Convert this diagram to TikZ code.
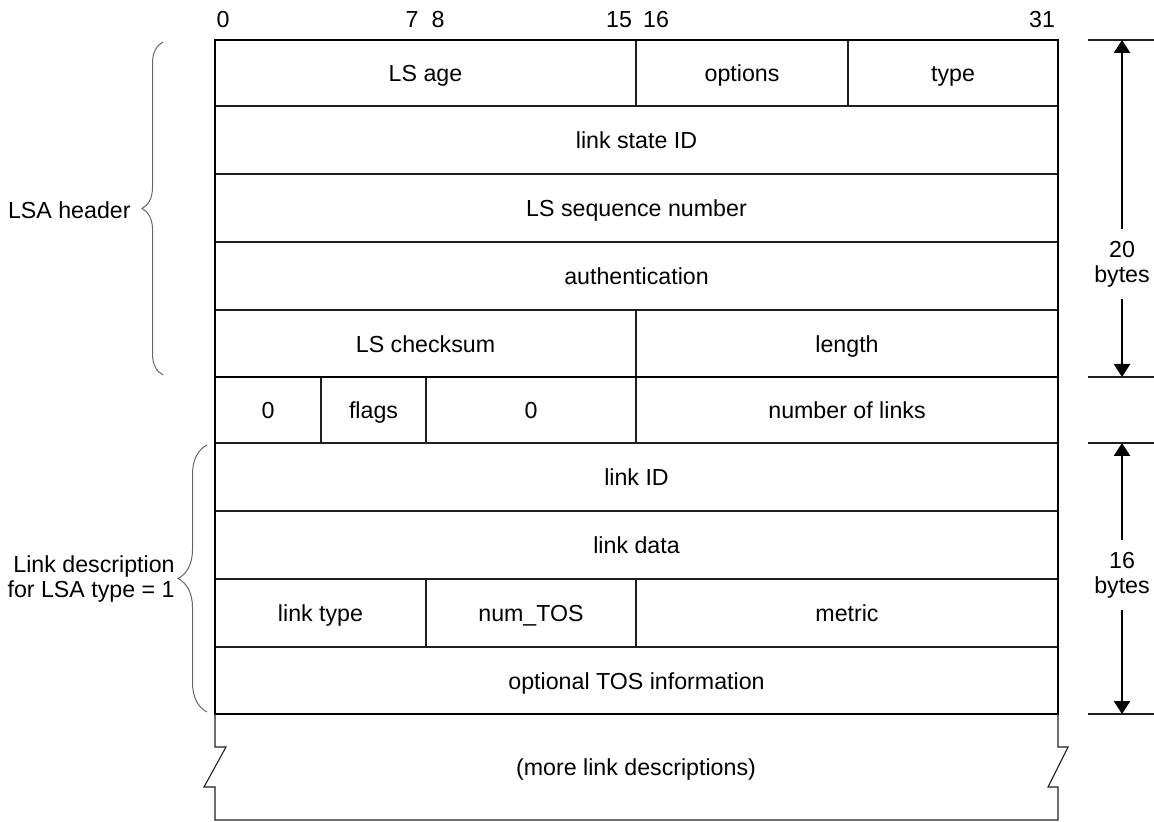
\documentclass[tikz,border=0pt]{standalone}
\usepackage{fontspec}
\setmainfont{Liberation Sans}
\usetikzlibrary{arrows.meta,decorations.pathreplacing}
\definecolor{LineClr}{rgb}{0.12,0.12,0.12}
\definecolor{BraceClr}{rgb}{0.4,0.4,0.4}

\begin{document}
\begin{tikzpicture}[x=0.5pt,y=-0.5pt,
  font=\fontsize{11.6}{12.4}\selectfont,
  fieldline/.style={line width=0.55pt,color=LineClr},
  frameline/.style={line width=1.1pt,color=black},
  fieldtxt/.style={text height=11pt,text depth=2.4pt,inner sep=0pt},
  bracket/.style={decorate,decoration={brace,amplitude=#1},line width=0.5pt,color=BraceClr},
  sizearrow/.style={-{Triangle[length=6.5pt,width=8pt]},line width=1.3pt},
  ticker/.style={line width=0.55pt,color=LineClr},
  sizelbl/.style={align=center,inner xsep=0pt,inner ysep=6pt}]
\useasboundingbox (0,0) rectangle (1154,822);

\foreach \n/\xa/\ya/\xb/\yb/\t in {
  age/215/40/636/106/LS age,
  opts/636/40/848/106/options,
  type/848/40/1058/106/type,
  lsid/215/106/1058/174/link state ID,
  seqno/215/174/1058/242/LS sequence number,
  auth/215/242/1058/310/authentication,
  cksum/215/310/636/377/LS checksum,
  len/636/310/1058/377/length,
  pada/215/377/321/443/0,
  flags/321/377/426/443/flags,
  padb/426/377/636/443/0,
  nlinks/636/377/1058/443/number of links,
  linkid/215/443/1058/511/link ID,
  linkdata/215/511/1058/579/link data,
  ltype/215/579/426/647/link type,
  ntos/426/579/636/647/num\_TOS,
  metric/636/579/1058/647/metric,
  tosinfo/215/647/1058/714/optional TOS information}
{
  \draw[fieldline] (\xa,\ya) rectangle (\xb,\yb);
  \node[fieldtxt] (\n) at ({(\xa+\xb)/2},{(\ya+\yb)/2}) {\t};
}

\draw[frameline] (215,40) rectangle (1058,714);
\draw[frameline] (215,377) -- (1058,377);

\draw[fieldline] (215,714) -- (215,747) -- (226,747) -- (204,787) -- (215,787) -- (215,820)
  -- (1058,820) -- (1058,787) -- (1048,787) -- (1068,747) -- (1058,747) -- (1058,714);
\node[fieldtxt] (more) at (636,767) {(more link descriptions)};

\foreach \b/\x in {0/223,7/412,8/438,15/619,16/656,31/1042}
  \node[fieldtxt] (bit\b) at (\x,19) {\b};

\foreach \y [count=\i] in {40,377,443,714}
{
  \coordinate (tk\i) at (1122,\y);
  \draw[ticker] (1088,\y) -- (1154,\y);
}

\node[sizelbl] (hdrlen) at (1122,264) {20\\bytes};
\draw[sizearrow] (hdrlen.north) -- (tk1);
\draw[sizearrow] (hdrlen.south) -- (tk2);

\node[sizelbl] (lnklen) at (1122,575) {16\\bytes};
\draw[sizearrow] (lnklen.north) -- (tk3);
\draw[sizearrow] (lnklen.south) -- (tk4);

\coordinate (hdrtop) at (163,42);
\coordinate (hdrbot) at (163,375);
\draw[bracket=10.5pt] (hdrbot) -- (hdrtop);
\node[anchor=east,fieldtxt] (hdrlbl) at (131,210) {LSA header};

\coordinate (lnktop) at (207,445);
\coordinate (lnkbot) at (207,712);
\draw[bracket=14.5pt] (lnkbot) -- (lnktop);
\node[anchor=east,align=right,inner sep=0pt] (lnklbl) at (175,579) {Link description\\for LSA type = 1};

\end{tikzpicture}
\end{document}
